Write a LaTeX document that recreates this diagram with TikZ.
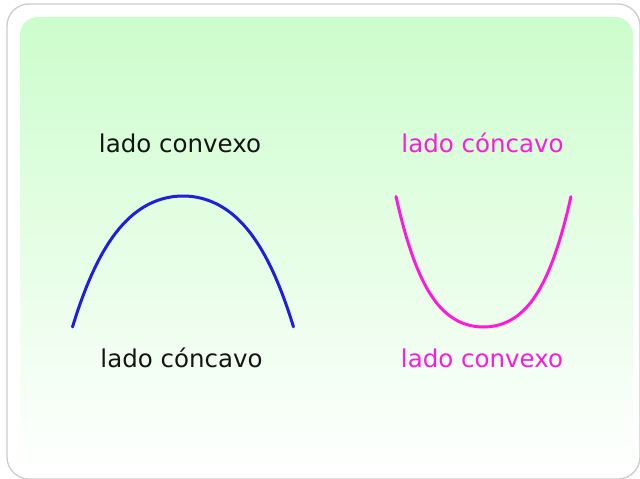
\documentclass[tikz,border=0pt]{standalone}
\usepackage{fontspec}
\setmainfont{DejaVu Sans}
\definecolor{topgreen}{RGB}{204,253,204}
\definecolor{arcblue}{RGB}{30,30,225}
\definecolor{arcpink}{RGB}{255,25,220}
\definecolor{txtblack}{RGB}{20,20,20}
\definecolor{framegray}{RGB}{205,205,205}
\tikzset{
  lbl/.style={anchor=base, inner sep=0pt, font=\fontsize{24.5}{28}\selectfont},
  arcline/.style={line width=3pt, line cap=round, line join=round},
}
\begin{document}
\begin{tikzpicture}[x=1pt, y=-1pt]
\useasboundingbox (0,0) rectangle (640,479);
\fill[white] (0,0) rectangle (640,479);
% outer frame
\draw[framegray, line width=1.3pt, rounded corners=22pt] (7,4) rectangle (640,479);
% inner gradient panel
\shade[top color=topgreen, bottom color=white, rounded corners=18pt] (20,17) rectangle (633,476);
% labels
\node[lbl, text=txtblack] (tl) at (180,152) {lado convexo};
\node[lbl, text=arcpink] (tr) at (482.5,152) {lado cóncavo};
\node[lbl, text=txtblack] (bl) at (181.5,367) {lado cóncavo};
\node[lbl, text=arcpink] (br) at (482,367) {lado convexo};
% blue arch
\draw[arcline, arcblue] plot[domain=-1:1, samples=81, variable=\t, smooth]
  ({183+110.5*\t}, {196+131*(0.62*\t*\t+0.38*\t*\t*\t*\t)});
% pink U
\draw[arcline, arcpink] plot[domain=-1:1, samples=81, variable=\t, smooth]
  ({483.5+87.5*\t}, {327-130.5*(0.5*\t*\t+0.5*\t*\t*\t*\t)});
\end{tikzpicture}
\end{document}
